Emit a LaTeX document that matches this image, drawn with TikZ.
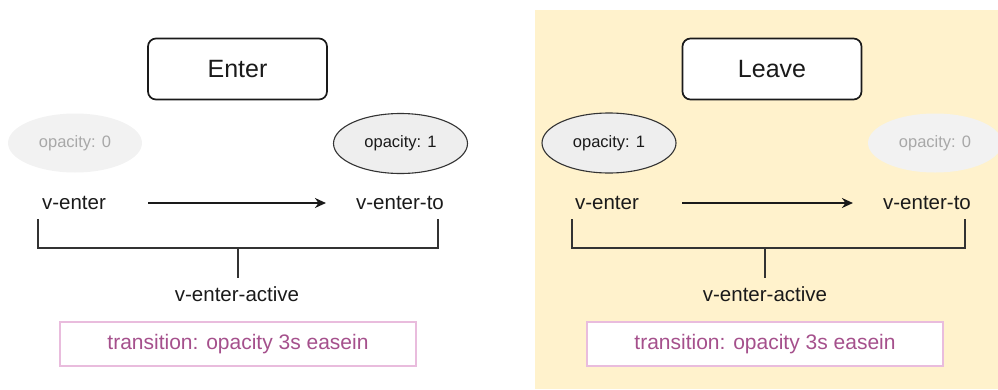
\documentclass[tikz,border=0pt]{standalone}
\usepackage{fontspec}
\setmainfont{Liberation Sans}
\usetikzlibrary{arrows.meta,shapes.geometric}
\definecolor{bgyellow}{HTML}{FFF2CC}
\definecolor{fadefill}{HTML}{F2F2F2}
\definecolor{fadetext}{HTML}{A8A8A8}
\definecolor{ellfill}{HTML}{EEEEEE}
\definecolor{ellline}{HTML}{333333}
\definecolor{pinkline}{HTML}{E9BCDD}
\definecolor{pinktext}{HTML}{A5508C}
\definecolor{ink}{HTML}{1A1A1A}
\tikzset{
  titlebox/.style={draw=ink, line width=1.7pt, rounded corners=8pt, fill=white,
    minimum width=179pt, minimum height=61pt, inner sep=0pt,
    font=\fontsize{25}{30}\selectfont, text=ink},
  fadeell/.style={ellipse, fill=fadefill, draw=none, minimum width=134pt, minimum height=59pt,
    inner sep=0pt, font=\fontsize{16.5}{20}\selectfont, text=fadetext},
  solidell/.style={ellipse, fill=ellfill, draw=ellline, line width=1.1pt, minimum width=134pt, minimum height=60pt,
    inner sep=0pt, font=\fontsize{16.5}{20}\selectfont, text=ink},
  lbl/.style={inner sep=0pt, font=\fontsize{20.5}{24}\selectfont, text=ink},
  transbox/.style={draw=pinkline, line width=1.2pt, fill=white, minimum width=356pt, minimum height=44pt,
    inner sep=0pt, font=\fontsize{21}{25}\selectfont, text=pinktext},
  flow/.style={draw=ink, line width=1.8pt, -{Stealth[length=11pt,width=10pt]}},
  bracket/.style={draw=ellline, line width=1.8pt},
}
\begin{document}
\begin{tikzpicture}[x=1pt,y=-1pt]
\useasboundingbox (0,0) rectangle (998,389);
\fill[bgyellow] (535,10) rectangle (998,389);

% ---------- Enter panel ----------
\node[titlebox] (enter) at (237.5,69) {Enter};
\node[fadeell] (lop0) at (75,143) {opacity: 0};
\node[solidell] (lop1) at (400.5,143.5) {opacity: 1};
\node[lbl] (lven) at (74,203) {v-enter};
\node[lbl] (lvto) at (400,203) {v-enter-to};
\draw[flow, shorten <=42pt, shorten >=30pt] (lven.east) -- (lvto.west);
\coordinate (lbl1) at (38,219);
\coordinate (lbl2) at (38,248);
\coordinate (lbr1) at (438,219);
\coordinate (lbr2) at (438,248);
\coordinate (lstem) at (238,248);
\coordinate (lstemend) at (238,278);
\draw[bracket] (lbl1) -- (lbl2) -- (lbr2) -- (lbr1);
\draw[bracket] (lstem) -- (lstemend);
\node[lbl] (lact) at (237,294) {v-enter-active};
\node[transbox] (ltr) at (238,344) {transition: opacity 3s easein};

% ---------- Leave panel ----------
\node[titlebox] (leave) at (772,69) {Leave};
\node[solidell] (rop1) at (609,143) {opacity: 1};
\node[fadeell] (rop0) at (935,143) {opacity: 0};
\node[lbl] (rven) at (607,203) {v-enter};
\node[lbl] (rvto) at (927,203) {v-enter-to};
\draw[flow, shorten <=43pt, shorten >=30pt] (rven.east) -- (rvto.west);
\coordinate (rbl1) at (572,219);
\coordinate (rbl2) at (572,248);
\coordinate (rbr1) at (965,219);
\coordinate (rbr2) at (965,248);
\coordinate (rstem) at (765,248);
\coordinate (rstemend) at (765,278);
\draw[bracket] (rbl1) -- (rbl2) -- (rbr2) -- (rbr1);
\draw[bracket] (rstem) -- (rstemend);
\node[lbl] (ract) at (765,294) {v-enter-active};
\node[transbox] (rtr) at (765,344) {transition: opacity 3s easein};
\end{tikzpicture}
\end{document}
